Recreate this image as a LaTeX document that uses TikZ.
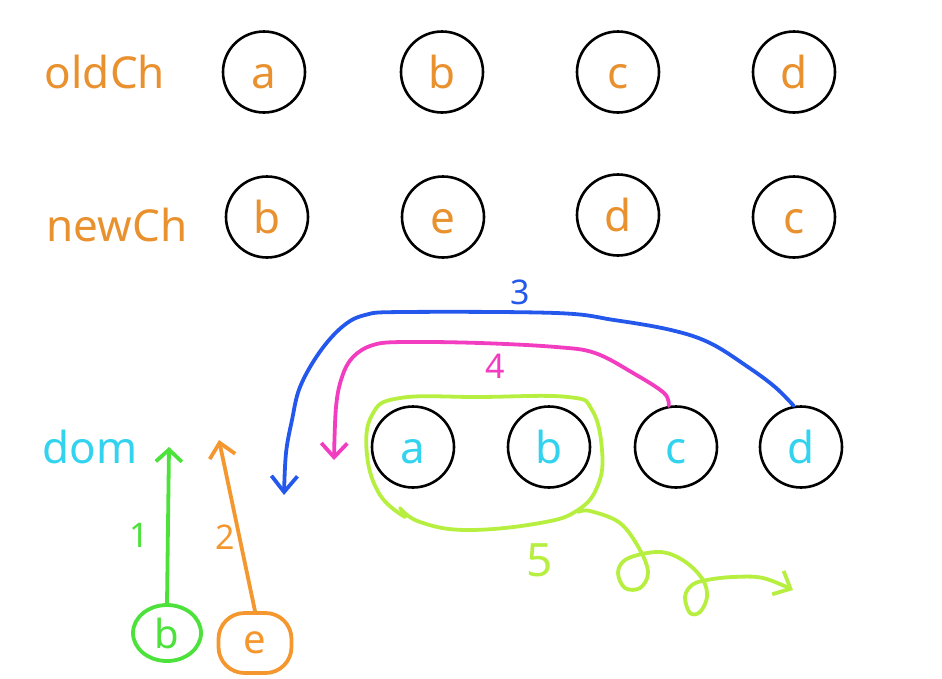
\documentclass[tikz,border=0pt]{standalone}
\usepackage{fontspec}
\setmainfont{Noto Sans}
\usetikzlibrary{arrows.meta,positioning,shapes.geometric}
\definecolor{txtorange}{HTML}{E8912E}
\definecolor{domcyan}{HTML}{33D3F0}
\definecolor{stepblue}{HTML}{2458EC}
\definecolor{steppink}{HTML}{F23DC0}
\definecolor{stepgreen}{HTML}{4DE23B}
\definecolor{steporange}{HTML}{F5972F}
\definecolor{steplime}{HTML}{B6EF3F}
\newcommand{\bigfont}{\fontsize{44}{48}\selectfont}
\newcommand{\numfont}{\fontsize{34}{36}\selectfont}

\begin{document}
\begin{tikzpicture}[x=1pt,y=-1pt,line join=round,line cap=round,
  vnode/.style={ellipse,draw=black,line width=2.6pt,minimum width=82pt,minimum height=81pt,inner sep=0pt,font=\bigfont,text height=32pt,text depth=0pt},
  rowlabel/.style={font=\bigfont,text height=32pt,text depth=0pt,inner sep=0pt},
  hand/.style={line width=3.8pt},
  handarrow/.style={hand,-{Straight Barb[length=#1,width=26pt]}},
  numlabel/.style={font=\numfont,inner sep=0pt}]
  \useasboundingbox (0,0) rectangle (942,678);

  \node[rowlabel,text=txtorange] (old) at (105,72) {oldCh};
  \node[vnode,text=txtorange] (oA) at (264,72) {a};
  \node[vnode,text=txtorange] (oB) at (442,72) {b};
  \node[vnode,text=txtorange] (oC) at (618,72) {c};
  \node[vnode,text=txtorange] (oD) at (794,72) {d};

  \node[rowlabel,text=txtorange] (new) at (117,225) {newCh};
  \node[vnode,text=txtorange] (nB) at (267,217) {b};
  \node[vnode,text=txtorange] (nE) at (443,217) {e};
  \node[vnode,text=txtorange] (nD) at (618,215) {d};
  \node[vnode,text=txtorange] (nC) at (794,217) {c};

  \node[rowlabel,text=domcyan] (dom) at (90,447) {dom};
  \node[vnode,text=domcyan] (dA) at (413,447) {a};
  \node[vnode,text=domcyan] (dB) at (549,447) {b};
  \node[vnode,text=domcyan] (dC) at (676,447) {c};
  \node[vnode,text=domcyan] (dD) at (801,447) {d};

  \node[ellipse,draw=stepgreen,hand,minimum width=68pt,minimum height=56pt,inner sep=0pt,text=stepgreen,font=\fontsize{40}{40}\selectfont] (inB) at (167,633) {b};
  \node[draw=steporange,hand,rounded corners=26pt,minimum width=73pt,minimum height=60pt,inner sep=0pt,text=steporange,font=\fontsize{40}{40}\selectfont] (inE) at (255,643) {e};

  \coordinate (t1) at (169,447);
  \coordinate (t2) at (219,440);
  \coordinate (t3) at (284,495);
  \coordinate (t4) at (334,460);
  \coordinate (t5) at (793,590);

  \draw[handarrow=12pt,stepgreen] (inB.north) -- (t1);
  \draw[handarrow=14pt,steporange] (inE.north) -- (t2);
  \draw[handarrow=16pt,stepblue] plot[smooth,tension=0.6] coordinates {(dD.100) (775,387) (748,367) (710,343) (671,330) (614,320) (556,313) (403,312) (365,315) (342,327) (319,353) (300,387) (292,420) (286,453) (t3)};
  \draw[handarrow=14pt,steppink] plot[smooth,tension=0.6] coordinates {(dC.100) (664,393) (633,373) (595,353) (556,347) (480,343) (403,342) (373,345) (353,357) (342,377) (336,407) (t4)};
  \draw[hand,steplime] plot[smooth,tension=0.7] coordinates {(405,517) (380,495) (367,455) (372,415) (400,398) (480,397) (568,397) (592,410) (602,450) (598,485) (578,510) (540,523) (467,530) (420,522) (400,508)};
  \draw[handarrow=14pt,steplime] plot[smooth,tension=0.6] coordinates {(578,512) (590,511) (620,523) (640,550) (648,573) (640,588) (625,588) (618,573) (625,560) (647,553) (667,553) (687,563) (703,580) (707,597) (700,612) (690,613) (685,597) (692,585) (707,580) (733,577) (763,578) (t5)};

  \node[numlabel,text=stepgreen] (n1) at (139,535) {1};
  \node[numlabel,text=steporange] (n2) at (225,537) {2};
  \node[numlabel,text=stepblue] (n3) at (520,292) {3};
  \node[numlabel,text=steppink] (n4) at (495,366) {4};
  \node[numlabel,text=steplime,font=\fontsize{46}{46}\selectfont] (n5) at (540,560) {5};
\end{tikzpicture}
\end{document}
